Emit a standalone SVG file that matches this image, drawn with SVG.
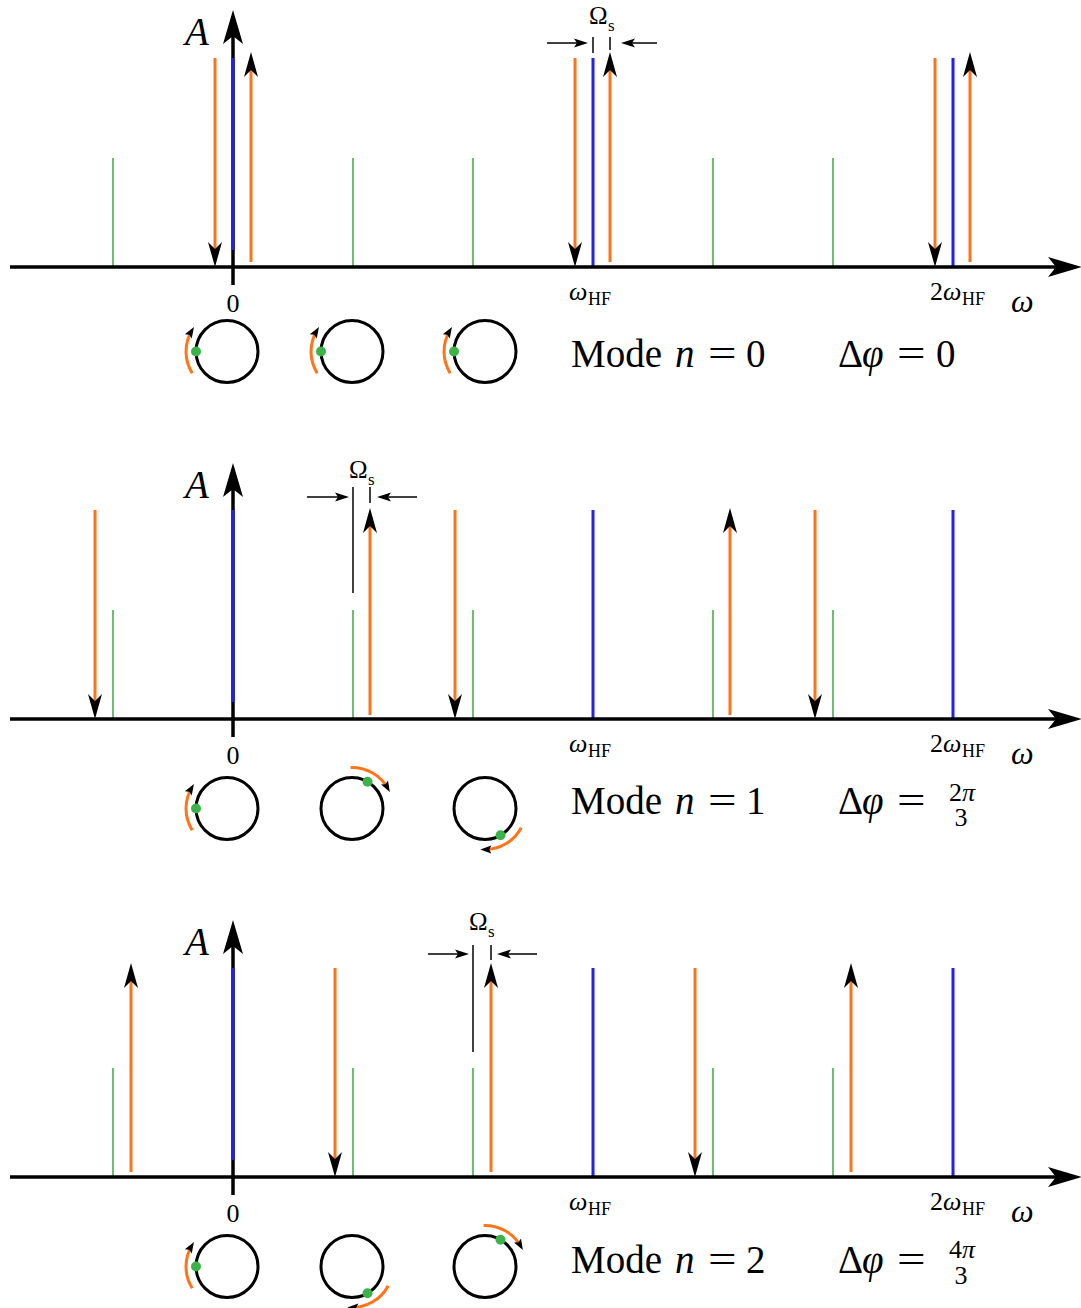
<svg xmlns="http://www.w3.org/2000/svg" width="1081" height="1308" viewBox="0 0 1081 1308">
<style>
.bg{fill:#fff}
.ax{stroke:#000;stroke-width:3.5;fill:none}
.bl{stroke:#2020f0;stroke-width:3;fill:none}
.gr{stroke:#44b04a;stroke-width:1.6;fill:none}
.or{stroke:#ff7419;stroke-width:3;fill:none}
.thin{stroke:#000;stroke-width:1.5;fill:none}
.circ{stroke:#000;stroke-width:3;fill:none}
.arc{stroke:#ff7419;stroke-width:3;fill:none}
.dot{fill:#3cb34a}
text{font-family:"Liberation Serif","Times New Roman",serif;fill:#000}
.it{font-style:italic}
.up{font-style:normal}
.lbl{font-size:26px}
.sub{font-size:18px}
.big{font-size:39px}
.fr{font-size:26px}
.om{font-size:25px}
.os{font-size:17px}
</style>
<defs>
<marker id="mAx" markerUnits="userSpaceOnUse" orient="auto" overflow="visible" refX="0" refY="0" markerWidth="40" markerHeight="40"><path d="M12,0 L-22,-10 L-14,0 L-22,10 Z" fill="#000"/></marker>
<marker id="mAh" markerUnits="userSpaceOnUse" orient="auto" overflow="visible" refX="0" refY="0" markerWidth="40" markerHeight="40"><path d="M8,0 L-17,-7 L-10,0 L-17,7 Z" fill="#000"/></marker>
<marker id="mSh" markerUnits="userSpaceOnUse" orient="auto" overflow="visible" refX="0" refY="0" markerWidth="40" markerHeight="40"><path d="M3,0 L-11,-4.5 L-8,0 L-11,4.5 Z" fill="#000"/></marker>
<marker id="mCh" markerUnits="userSpaceOnUse" orient="auto" overflow="visible" refX="0" refY="0" markerWidth="40" markerHeight="40"><path d="M4,0 L-7,-4 L-5,0 L-7,4 Z" fill="#000"/></marker>
</defs>
<rect class="bg" x="0" y="0" width="1081" height="1308"/>

<!-- ================= PANEL 1 ================= -->
<g id="panel1-spectrum">
  <g id="p1-green">
    <line class="gr" x1="113" y1="158" x2="113" y2="267"/>
    <line class="gr" x1="353" y1="158" x2="353" y2="267"/>
    <line class="gr" x1="473" y1="158" x2="473" y2="267"/>
    <line class="gr" x1="713" y1="158" x2="713" y2="267"/>
    <line class="gr" x1="833" y1="158" x2="833" y2="267"/>
  </g>
  <g id="p1-blue">
    <line class="bl" x1="593" y1="58" x2="593" y2="267"/>
    <line class="bl" x1="953" y1="58" x2="953" y2="267"/>
  </g>
</g>
<g id="panel1-axes">
  <line class="ax" x1="10" y1="267" x2="1070" y2="267" marker-end="url(#mAx)"/>
  <line class="ax" x1="233" y1="285" x2="233" y2="22" marker-end="url(#mAx)"/>
  <line class="bl" x1="233" y1="58" x2="233" y2="250"/>
</g>
<g id="panel1-connectors">
  <line class="or" x1="215" y1="58" x2="215" y2="259" marker-end="url(#mAh)"/>
  <line class="or" x1="575" y1="58" x2="575" y2="259" marker-end="url(#mAh)"/>
  <line class="or" x1="935" y1="58" x2="935" y2="259" marker-end="url(#mAh)"/>
  <line class="or" x1="251" y1="262" x2="251" y2="60" marker-end="url(#mAh)"/>
  <line class="or" x1="610" y1="262" x2="610" y2="60" marker-end="url(#mAh)"/>
  <line class="or" x1="970" y1="262" x2="970" y2="60" marker-end="url(#mAh)"/>
  <line class="thin" x1="593" y1="37" x2="593" y2="53"/>
  <line class="thin" x1="610" y1="37" x2="610" y2="50"/>
  <line class="thin" x1="547" y1="43" x2="585" y2="43" marker-end="url(#mSh)"/>
  <line class="thin" x1="657" y1="43" x2="624" y2="43" marker-end="url(#mSh)"/>
</g>
<g id="panel1-labels">
  <text class="it big" x="185" y="45">A</text>
  <text class="om" x="589" y="24">Ω<tspan class="os" x="608" y="31">s</tspan></text>
  <text class="lbl" x="233" y="312" text-anchor="middle">0</text>
  <text class="lbl it" x="569" y="300">ω<tspan class="sub up" x="588" y="305">HF</tspan></text>
  <text class="lbl" x="930" y="300">2<tspan class="it" x="943">ω</tspan><tspan class="sub" x="962" y="305">HF</tspan></text>
  <text class="it" x="1011" y="312" style="font-size:32px">ω</text>
</g>
<g id="panel1-modes">
  <g id="p1-c1"><path class="arc" d="M192.2,373.2 A41,41 0 0 1 191.9,330.4" marker-end="url(#mCh)"/><circle class="circ" cx="227" cy="351.5" r="31"/><circle class="dot" cx="196" cy="351.5" r="5"/></g>
  <g id="p1-c2"><path class="arc" d="M317.2,373.2 A41,41 0 0 1 316.9,330.4" marker-end="url(#mCh)"/><circle class="circ" cx="352" cy="351.5" r="31"/><circle class="dot" cx="321" cy="351.5" r="5"/></g>
  <g id="p1-c3"><path class="arc" d="M450.2,373.2 A41,41 0 0 1 449.9,330.4" marker-end="url(#mCh)"/><circle class="circ" cx="485" cy="351.5" r="31"/><circle class="dot" cx="454" cy="351.5" r="5"/></g>
  <text class="big" x="571" y="367">Mode<tspan class="it" x="675">n</tspan><tspan x="746">0</tspan></text>
  <text class="big" transform="translate(708,367) scale(1.3,1)" x="0" y="0">=</text>
  <text class="big" x="838" y="367">Δ<tspan class="it" x="862">φ</tspan><tspan x="936">0</tspan></text>
  <text class="big" transform="translate(897,367) scale(1.3,1)" x="0" y="0">=</text>
</g>

<!-- ================= PANEL 2 ================= -->
<g id="panel2-spectrum">
  <g id="p2-green">
    <line class="gr" x1="113" y1="610" x2="113" y2="719"/>
    <line class="gr" x1="353" y1="610" x2="353" y2="719"/>
    <line class="gr" x1="473" y1="610" x2="473" y2="719"/>
    <line class="gr" x1="713" y1="610" x2="713" y2="719"/>
    <line class="gr" x1="833" y1="610" x2="833" y2="719"/>
  </g>
  <g id="p2-blue">
    <line class="bl" x1="593" y1="510" x2="593" y2="719"/>
    <line class="bl" x1="953" y1="510" x2="953" y2="719"/>
  </g>
</g>
<g id="panel2-axes">
  <line class="ax" x1="10" y1="719" x2="1070" y2="719" marker-end="url(#mAx)"/>
  <line class="ax" x1="233" y1="737" x2="233" y2="475" marker-end="url(#mAx)"/>
  <line class="bl" x1="233" y1="510" x2="233" y2="702"/>
</g>
<g id="panel2-connectors">
  <line class="or" x1="95" y1="510" x2="95" y2="711" marker-end="url(#mAh)"/>
  <line class="or" x1="455" y1="510" x2="455" y2="711" marker-end="url(#mAh)"/>
  <line class="or" x1="815" y1="510" x2="815" y2="711" marker-end="url(#mAh)"/>
  <line class="or" x1="370" y1="715" x2="370" y2="516" marker-end="url(#mAh)"/>
  <line class="or" x1="730" y1="715" x2="730" y2="516" marker-end="url(#mAh)"/>
  <line class="thin" x1="353" y1="487" x2="353" y2="593"/>
  <line class="thin" x1="370" y1="487" x2="370" y2="503"/>
  <line class="thin" x1="307" y1="497" x2="346" y2="497" marker-end="url(#mSh)"/>
  <line class="thin" x1="417" y1="497" x2="380" y2="497" marker-end="url(#mSh)"/>
</g>
<g id="panel2-labels">
  <text class="it big" x="185" y="498">A</text>
  <text class="om" x="349" y="478">Ω<tspan class="os" x="368" y="485">s</tspan></text>
  <text class="lbl" x="233" y="764" text-anchor="middle">0</text>
  <text class="lbl it" x="569" y="752">ω<tspan class="sub up" x="588" y="757">HF</tspan></text>
  <text class="lbl" x="930" y="752">2<tspan class="it" x="943">ω</tspan><tspan class="sub" x="962" y="757">HF</tspan></text>
  <text class="it" x="1011" y="764" style="font-size:32px">ω</text>
</g>
<g id="panel2-modes">
  <g id="p2-c1"><path class="arc" d="M192.2,830.2 A41,41 0 0 1 191.9,787.4" marker-end="url(#mCh)"/><circle class="circ" cx="227" cy="808.5" r="31"/><circle class="dot" cx="196" cy="808.5" r="5"/></g>
  <g id="p2-c2"><path class="arc" d="M350.6,767.5 A41,41 0 0 1 387.9,788.6" marker-end="url(#mCh)"/><circle class="circ" cx="352" cy="808.5" r="31"/><circle class="dot" cx="367.5" cy="781.7" r="5"/></g>
  <g id="p2-c3"><path class="arc" d="M521.2,827.7 A41,41 0 0 1 484.3,849.5" marker-end="url(#mCh)"/><circle class="circ" cx="485" cy="808.5" r="31"/><circle class="dot" cx="500.5" cy="835.3" r="5"/></g>
  <text class="big" x="571" y="814">Mode<tspan class="it" x="675">n</tspan><tspan x="746">1</tspan></text>
  <text class="big" transform="translate(708,814) scale(1.3,1)" x="0" y="0">=</text>
  <text class="big" x="838" y="814">Δ<tspan class="it" x="862">φ</tspan></text>
  <text class="big" transform="translate(897,814) scale(1.3,1)" x="0" y="0">=</text>
  <text class="fr" x="962" y="801" text-anchor="middle">2<tspan class="it">π</tspan></text>
  <text class="fr" x="961" y="826" text-anchor="middle">3</text>
</g>

<!-- ================= PANEL 3 ================= -->
<g id="panel3-spectrum">
  <g id="p3-green">
    <line class="gr" x1="113" y1="1068" x2="113" y2="1177"/>
    <line class="gr" x1="353" y1="1068" x2="353" y2="1177"/>
    <line class="gr" x1="473" y1="1068" x2="473" y2="1177"/>
    <line class="gr" x1="713" y1="1068" x2="713" y2="1177"/>
    <line class="gr" x1="833" y1="1068" x2="833" y2="1177"/>
  </g>
  <g id="p3-blue">
    <line class="bl" x1="593" y1="968" x2="593" y2="1177"/>
    <line class="bl" x1="953" y1="968" x2="953" y2="1177"/>
  </g>
</g>
<g id="panel3-axes">
  <line class="ax" x1="10" y1="1177" x2="1070" y2="1177" marker-end="url(#mAx)"/>
  <line class="ax" x1="233" y1="1195" x2="233" y2="932" marker-end="url(#mAx)"/>
  <line class="bl" x1="233" y1="968" x2="233" y2="1160"/>
</g>
<g id="panel3-connectors">
  <line class="or" x1="131" y1="1172" x2="131" y2="971" marker-end="url(#mAh)"/>
  <line class="or" x1="491" y1="1172" x2="491" y2="971" marker-end="url(#mAh)"/>
  <line class="or" x1="851" y1="1172" x2="851" y2="971" marker-end="url(#mAh)"/>
  <line class="or" x1="335" y1="968" x2="335" y2="1169" marker-end="url(#mAh)"/>
  <line class="or" x1="695" y1="968" x2="695" y2="1169" marker-end="url(#mAh)"/>
  <line class="thin" x1="473" y1="945" x2="473" y2="1052"/>
  <line class="thin" x1="491" y1="945" x2="491" y2="960"/>
  <line class="thin" x1="428" y1="954" x2="466" y2="954" marker-end="url(#mSh)"/>
  <line class="thin" x1="537" y1="954" x2="500" y2="954" marker-end="url(#mSh)"/>
</g>
<g id="panel3-labels">
  <text class="it big" x="185" y="955">A</text>
  <text class="om" x="469" y="930">Ω<tspan class="os" x="488" y="937">s</tspan></text>
  <text class="lbl" x="233" y="1222" text-anchor="middle">0</text>
  <text class="lbl it" x="569" y="1210">ω<tspan class="sub up" x="588" y="1215">HF</tspan></text>
  <text class="lbl" x="930" y="1210">2<tspan class="it" x="943">ω</tspan><tspan class="sub" x="962" y="1215">HF</tspan></text>
  <text class="it" x="1011" y="1222" style="font-size:32px">ω</text>
</g>
<g id="panel3-modes">
  <g id="p3-c1"><path class="arc" d="M192.2,1288.2 A41,41 0 0 1 191.9,1245.4" marker-end="url(#mCh)"/><circle class="circ" cx="227" cy="1266.5" r="31"/><circle class="dot" cx="196" cy="1266.5" r="5"/></g>
  <g id="p3-c2"><path class="arc" d="M388.2,1285.7 A41,41 0 0 1 351.3,1307.5" marker-end="url(#mCh)"/><circle class="circ" cx="352" cy="1266.5" r="31"/><circle class="dot" cx="367.5" cy="1293.3" r="5"/></g>
  <g id="p3-c3"><path class="arc" d="M483.6,1225.5 A41,41 0 0 1 520.9,1246.6" marker-end="url(#mCh)"/><circle class="circ" cx="485" cy="1266.5" r="31"/><circle class="dot" cx="500.5" cy="1239.7" r="5"/></g>
  <text class="big" x="571" y="1273">Mode<tspan class="it" x="675">n</tspan><tspan x="746">2</tspan></text>
  <text class="big" transform="translate(708,1273) scale(1.3,1)" x="0" y="0">=</text>
  <text class="big" x="838" y="1273">Δ<tspan class="it" x="862">φ</tspan></text>
  <text class="big" transform="translate(897,1273) scale(1.3,1)" x="0" y="0">=</text>
  <text class="fr" x="962" y="1258" text-anchor="middle">4<tspan class="it">π</tspan></text>
  <text class="fr" x="961" y="1284" text-anchor="middle">3</text>
</g>
</svg>
